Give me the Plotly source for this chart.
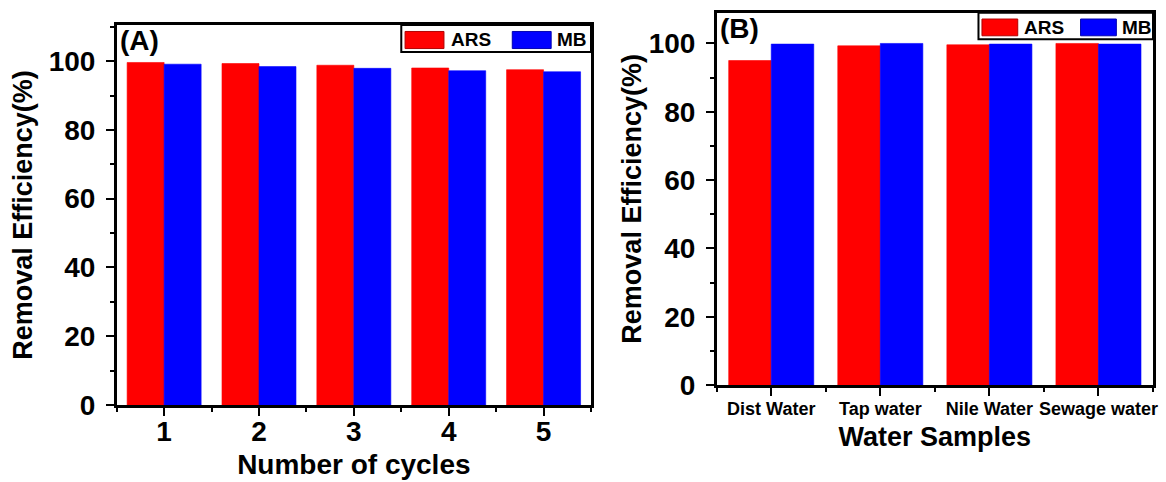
import plotly.graph_objects as go

# ---- data ----
cycles = [1, 2, 3, 4, 5]
ars_cycles = [99.6, 99.3, 98.8, 98.0, 97.5]
mb_cycles = [99.1, 98.4, 97.9, 97.2, 96.9]

samples = ["Dist Water", "Tap water", "Nile Water", "Sewage water"]
ars_samples = [95.0, 99.3, 99.6, 100.0]
mb_samples = [99.8, 100.0, 99.8, 99.8]

series_names = ["ARS", "MB"]
series_colors = ["#FF0000", "#0000FF"]

y_ticks = [0, 20, 40, 60, 80, 100]

FONT = "Liberation Sans, Arial, sans-serif"

W, H = 1166, 482

def dx(a, b):
    return [a / W, b / W]

def dy(top, bottom):
    return [1 - bottom / H, 1 - top / H]

fig = go.Figure()

sample_pos = list(range(1, len(samples) + 1))

for name, color, vals in zip(series_names, series_colors, [ars_cycles, mb_cycles]):
    fig.add_trace(go.Bar(x=cycles, y=vals, name=name, marker=dict(color=color, line=dict(width=0.6, color=color)),
                         xaxis="x", yaxis="y", showlegend=False))
for name, color, vals in zip(series_names, series_colors, [ars_samples, mb_samples]):
    fig.add_trace(go.Bar(x=sample_pos, y=vals, name=name, marker=dict(color=color, line=dict(width=0.6, color=color)),
                         xaxis="x2", yaxis="y2", showlegend=False))

def xax(domain, anchor, rng, tickvals, ticktext, title, tfs, titlefs, standoff, lblstand):
    return dict(
        domain=domain, anchor=anchor, range=rng, automargin=False,
        tickmode="array", tickvals=tickvals, ticktext=ticktext, tickangle=0,
        ticks="outside", ticklen=8, tickwidth=2, tickcolor="black",
        ticklabelstandoff=lblstand,
        showline=True, linecolor="black", linewidth=2.5, mirror=True,
        showgrid=False, zeroline=False,
        tickfont=dict(family=FONT, size=tfs, color="black", weight="bold"),
        title=dict(text=title, font=dict(family=FONT, size=titlefs, color="black", weight="bold"), standoff=standoff),
        minor=dict(ticks="outside", ticklen=4, tickwidth=2, tickcolor="black", tick0=0.5, dtick=1, showgrid=False),
    )

def yax(domain, anchor, rng, title, standoff):
    return dict(
        domain=domain, anchor=anchor, range=rng, automargin=False,
        tickmode="array", tickvals=y_ticks,
        ticks="outside", ticklen=8, tickwidth=2, tickcolor="black",
        ticklabelstandoff=5,
        showline=True, linecolor="black", linewidth=2.5, mirror=True,
        showgrid=False, zeroline=False,
        tickfont=dict(family=FONT, size=28, color="black", weight="bold"),
        title=dict(text=title, font=dict(family=FONT, size=27, color="black", weight="bold"), standoff=standoff),
        minor=dict(ticks="outside", ticklen=4, tickwidth=2, tickcolor="black", tick0=0, dtick=10, showgrid=False),
    )

fig.update_layout(
    width=W, height=H, autosize=False,
    margin=dict(l=0, r=0, t=0, b=0, autoexpand=False),
    paper_bgcolor="white", plot_bgcolor="white",
    barmode="group", bargap=0.22, bargroupgap=0,
    xaxis=xax(dx(116.7, 591), "y", [0.5, 5.5], cycles, [str(c) for c in cycles],
              "Number of cycles", 28, 28, 9, -8),
    yaxis=yax(dy(25, 405), "x", [0, 110.5], "Removal Efficiency(%)", 9),
    xaxis2=xax(dx(716.7, 1153), "y2", [0.5, len(samples) + 0.5], sample_pos, samples,
               "Water Samples", 18, 27, 9, -2),
    yaxis2=yax(dy(12.7, 385), "x2", [0, 109], "Removal Efficiency(%)", 0),
)

# legend boxes (drawn per panel)
shapes = []
annotations = []
for xr, yr, label in [("x domain", "y domain", "(A)"), ("x2 domain", "y2 domain", "(B)")]:
    shapes.append(dict(type="rect", xref=xr, yref=yr, x0=0.600, x1=1.0, y0=0.929, y1=1.0,
                       line=dict(color="black", width=2), fillcolor="white", layer="above"))
    shapes.append(dict(type="rect", xref=xr, yref=yr, x0=0.608, x1=0.690, y0=0.938, y1=0.983,
                       line=dict(color="#B00000", width=1), fillcolor=series_colors[0], layer="above"))
    shapes.append(dict(type="rect", xref=xr, yref=yr, x0=0.834, x1=0.916, y0=0.938, y1=0.983,
                       line=dict(color="#0000B0", width=1), fillcolor=series_colors[1], layer="above"))
    annotations.append(dict(xref=xr, yref=yr, x=0.700, y=0.961, text=series_names[0], showarrow=False,
                            xanchor="left", yanchor="middle",
                            font=dict(family=FONT, size=19, color="black", weight="bold")))
    annotations.append(dict(xref=xr, yref=yr, x=0.924, y=0.961, text=series_names[1], showarrow=False,
                            xanchor="left", yanchor="middle",
                            font=dict(family=FONT, size=19, color="black", weight="bold")))
    annotations.append(dict(xref=xr, yref=yr, x=0.003, y=1.005, text=label, showarrow=False,
                            xanchor="left", yanchor="top",
                            font=dict(family=FONT, size=28, color="black", weight="bold")))

fig.update_layout(shapes=shapes, annotations=annotations)

fig.write_html("out.html", config={"displayModeBar": False},
               post_script="document.body.style.margin='0';")
